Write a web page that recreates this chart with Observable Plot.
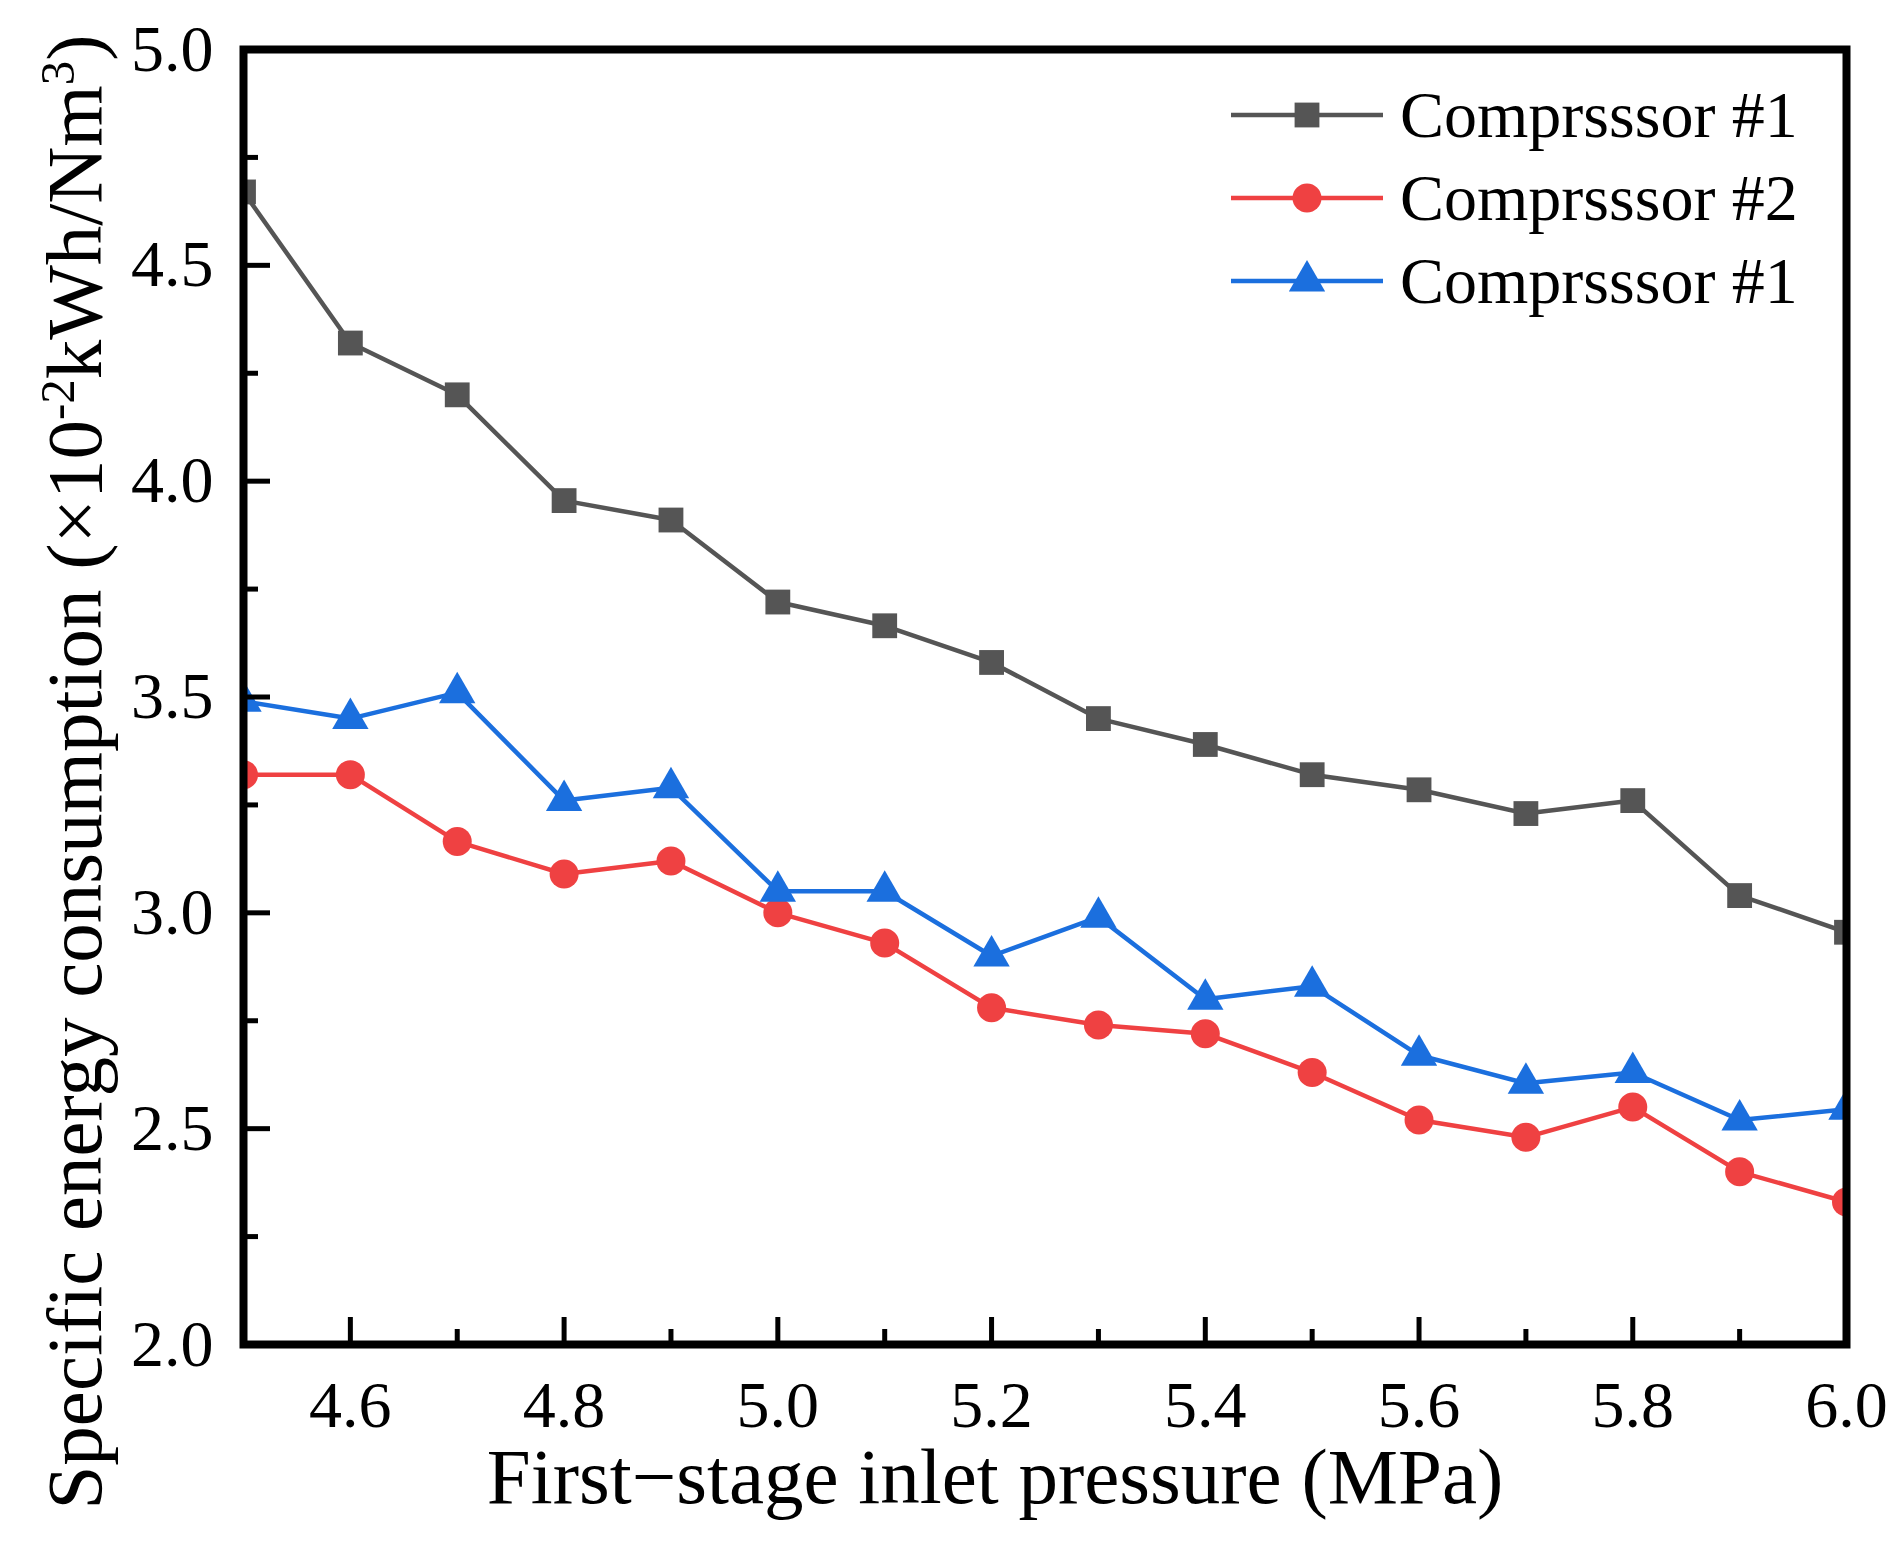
<!DOCTYPE html>
<html><head><meta charset="utf-8">
<script src="https://cdn.jsdelivr.net/npm/d3@7"></script>
<script src="https://cdn.jsdelivr.net/npm/@observablehq/plot@0.6"></script>
<style>body{margin:0;background:#fff}</style>
</head><body><div id="chart"></div>
<script>
const pressure = [4.5,4.6,4.7,4.8,4.9,5.0,5.1,5.2,5.3,5.4,5.5,5.6,5.7,5.8,5.9,6.0];
const compressor1 = [4.67,4.32,4.20,3.955,3.91,3.72,3.665,3.58,3.45,3.39,3.32,3.285,3.23,3.26,3.04,2.955];
const compressor2 = [3.32,3.32,3.165,3.09,3.12,3.00,2.93,2.78,2.74,2.72,2.63,2.52,2.48,2.55,2.40,2.33];
const compressor3 = [3.49,3.45,3.51,3.26,3.29,3.05,3.05,2.90,2.99,2.80,2.83,2.67,2.605,2.63,2.52,2.545];
const seriesNames = ["Comprsssor #1","Comprsssor #2","Comprsssor #1"];
const seriesColors = ["#555555","#ef4142","#1b6fde"];
const seriesSymbols = ["square","circle","triangle"];
const xMajorTicks = [4.6,4.8,5.0,5.2,5.4,5.6,5.8,6.0];
const xMinorTicks = [4.5,4.7,4.9,5.1,5.3,5.5,5.7,5.9];
const yMajorTicks = [2.0,2.5,3.0,3.5,4.0,4.5,5.0];
const yMinorTicks = [2.25,2.75,3.25,3.75,4.25,4.75];
const xTitle = "First\u2212stage inlet pressure (MPa)";
const yTitle = "Specific energy consumption (\u00d710-2kWh/Nm3)";

const seriesValues = [compressor1, compressor2, compressor3];
const W = 1904, H = 1548;
const mT = 49, mR = 58, mB = 204, mL = 243;
const innerW = W - mL - mR, innerH = H - mT - mB;
const markerR = [14, 14.5, 13.5];

const seriesMarks = [];
seriesValues.forEach((vals, s) => {
  const rows = pressure.map((p, i) => ({x: p, y: vals[i]}));
  seriesMarks.push(Plot.line(rows, {x: "x", y: "y", stroke: seriesColors[s], strokeWidth: 4.5, clip: true}));
  seriesMarks.push(Plot.dot(rows, {x: "x", y: "y", fill: seriesColors[s], stroke: "none", symbol: seriesSymbols[s], r: markerR[s], clip: true}));
});

const fmt = d3.format(".1f");
const serif = "'Liberation Serif', 'Times New Roman', serif";
const svg = Plot.plot({
  width: W, height: H,
  marginTop: mT, marginRight: mR, marginBottom: mB, marginLeft: mL,
  style: {fontFamily: serif, background: "#fff", color: "#000"},
  x: {domain: [4.5, 6.0]},
  y: {domain: [2.0, 5.0]},
  marks: [
    ...seriesMarks,
    Plot.ruleX(xMajorTicks, {x: d => d, stroke: "#000", strokeWidth: 5, insetTop: innerH - 27}),
    Plot.ruleX(xMinorTicks, {x: d => d, stroke: "#000", strokeWidth: 5, insetTop: innerH - 15}),
    Plot.ruleY(yMajorTicks, {y: d => d, stroke: "#000", strokeWidth: 5, insetRight: innerW - 27}),
    Plot.ruleY(yMinorTicks, {y: d => d, stroke: "#000", strokeWidth: 5, insetRight: innerW - 15}),
    Plot.frame({stroke: "#000", strokeWidth: 8}),
    Plot.axisX({ticks: xMajorTicks, tickSize: 0, tickPadding: 36, tickFormat: fmt, fontSize: 66, label: null}),
    Plot.axisY({ticks: yMajorTicks, tickSize: 0, tickPadding: 30, tickFormat: fmt, fontSize: 66, label: null}),
    Plot.text([xTitle], {text: d => d, frameAnchor: "bottom", textAnchor: "middle", dy: 158, dx: -50, fontSize: 79, lineAnchor: "bottom", fill: "#000"}),
    Plot.text([yTitle], {text: d => d, frameAnchor: "left", textAnchor: "middle", rotate: -90, dx: -143, dy: 75, fontSize: 79, lineAnchor: "bottom", fill: "#000"})
  ]
});

// superscripts in the y title
d3.select(svg).selectAll("text").filter(function() { return this.textContent === yTitle; }).each(function() {
  const t = d3.select(this);
  t.text(null);
  t.append("tspan").text("Specific energy consumption (\u00d710");
  t.append("tspan").attr("dy", "-0.55em").attr("font-size", "0.62em").text("-2");
  t.append("tspan").attr("dy", "0.341em").text("kWh/Nm");
  t.append("tspan").attr("dy", "-0.55em").attr("font-size", "0.62em").text("3");
  t.append("tspan").attr("dy", "0.341em").text(")");
});

// legend inside plot (top-right)
const lg = d3.select(svg).append("g").attr("font-family", serif).attr("text-anchor", "start");
const rowsY = [115, 198, 281];
seriesNames.forEach((name, s) => {
  const y = rowsY[s];
  lg.append("line").attr("x1", 1231).attr("x2", 1383).attr("y1", y).attr("y2", y)
    .attr("stroke", seriesColors[s]).attr("stroke-width", 4.5);
  const sym = [d3.symbolSquare, d3.symbolCircle, d3.symbolTriangle][s];
  lg.append("path").attr("transform", `translate(1307,${y})`)
    .attr("d", d3.symbol(sym, Math.PI * markerR[s] * markerR[s])())
    .attr("fill", seriesColors[s]);
  lg.append("text").attr("x", 1400).attr("y", y + 22).attr("font-size", 66).attr("fill", "#000").attr("text-anchor", "start").text(name);
});

document.getElementById("chart").appendChild(svg);
</script>
</body></html>
